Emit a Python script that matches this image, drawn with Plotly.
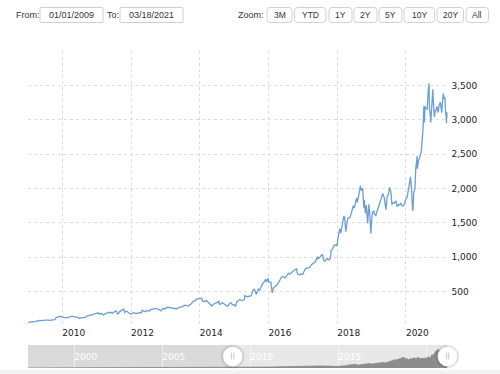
import plotly.graph_objects as go

W, H = 500, 374


def px(x):
    return x / W


def py(y):
    return 1 - y / H


# ---------------- data ----------------
dates = [
    "2009-01-02", "2009-01-15", "2009-02-02", "2009-02-17", "2009-03-02", "2009-03-16", "2009-04-01", "2009-04-15",
    "2009-05-01", "2009-05-15", "2009-06-01", "2009-06-15", "2009-07-01", "2009-07-15", "2009-08-03", "2009-08-17",
    "2009-09-01", "2009-09-15", "2009-10-01", "2009-10-15", "2009-10-26", "2009-11-16", "2009-12-01", "2009-12-15",
    "2009-12-31",
    "2010-01-15", "2010-02-01", "2010-02-16", "2010-03-01", "2010-03-15", "2010-04-01", "2010-04-15", "2010-04-30",
    "2010-05-14", "2010-06-01", "2010-06-15", "2010-07-01", "2010-07-15", "2010-07-30", "2010-08-16", "2010-09-01",
    "2010-09-15", "2010-10-01", "2010-10-15", "2010-11-01", "2010-11-15", "2010-12-01", "2010-12-15", "2010-12-31",
    "2011-01-18", "2011-01-28", "2011-02-15", "2011-03-01", "2011-03-16", "2011-04-01", "2011-04-15", "2011-04-29",
    "2011-05-16", "2011-06-01", "2011-06-15", "2011-07-01", "2011-07-15", "2011-07-27", "2011-08-08", "2011-08-22",
    "2011-09-01", "2011-09-15", "2011-09-27", "2011-10-14", "2011-10-26", "2011-11-15", "2011-12-01", "2011-12-15",
    "2011-12-30",
    "2012-01-17", "2012-01-31", "2012-02-15", "2012-03-01", "2012-03-15", "2012-04-02", "2012-04-20", "2012-04-27",
    "2012-05-15", "2012-06-01", "2012-06-15", "2012-07-02", "2012-07-16", "2012-07-27", "2012-08-15", "2012-09-04",
    "2012-09-25", "2012-10-15", "2012-10-26", "2012-11-15", "2012-11-30", "2012-12-14", "2012-12-31",
    "2013-01-15", "2013-01-31", "2013-02-15", "2013-03-01", "2013-03-15", "2013-04-01", "2013-04-19", "2013-05-01",
    "2013-05-15", "2013-06-03", "2013-06-14", "2013-07-01", "2013-07-22", "2013-08-01", "2013-08-15", "2013-09-03",
    "2013-09-17", "2013-10-01", "2013-10-25", "2013-11-15", "2013-12-02", "2013-12-16", "2013-12-31",
    "2014-01-22", "2014-01-31", "2014-02-14", "2014-03-03", "2014-03-14", "2014-04-01", "2014-04-14", "2014-04-25",
    "2014-05-08", "2014-05-23", "2014-06-11", "2014-07-01", "2014-07-24", "2014-07-25", "2014-08-08", "2014-08-29",
    "2014-09-15", "2014-10-01", "2014-10-24", "2014-11-14", "2014-11-28", "2014-12-15", "2014-12-31",
    "2015-01-16", "2015-01-30", "2015-02-17", "2015-03-02", "2015-03-16", "2015-04-01", "2015-04-22", "2015-04-24",
    "2015-05-15", "2015-06-01", "2015-06-15", "2015-07-01", "2015-07-24", "2015-08-05", "2015-08-24", "2015-09-01",
    "2015-09-16", "2015-10-01", "2015-10-16", "2015-10-23", "2015-11-02", "2015-11-16", "2015-12-01", "2015-12-10",
    "2015-12-29",
    "2016-01-04", "2016-01-28", "2016-02-09", "2016-02-24", "2016-03-15", "2016-04-01", "2016-04-29", "2016-05-16",
    "2016-06-01", "2016-06-24", "2016-07-15", "2016-08-01", "2016-08-15", "2016-09-01", "2016-09-23", "2016-10-14",
    "2016-10-25", "2016-11-04", "2016-11-15", "2016-12-01", "2016-12-15", "2016-12-30",
    "2017-01-27", "2017-02-15", "2017-03-01", "2017-03-15", "2017-04-03", "2017-04-28", "2017-05-15", "2017-06-05",
    "2017-06-09", "2017-06-26", "2017-07-27", "2017-08-10", "2017-08-25", "2017-09-15", "2017-10-02", "2017-10-20",
    "2017-10-27", "2017-11-15", "2017-11-30", "2017-12-15", "2017-12-29",
    "2018-01-12", "2018-01-29", "2018-02-01", "2018-02-08", "2018-02-27", "2018-03-12", "2018-03-20", "2018-04-02",
    "2018-04-17", "2018-04-27", "2018-05-15", "2018-06-01", "2018-06-20", "2018-07-02", "2018-07-25", "2018-08-01",
    "2018-08-15", "2018-08-30", "2018-09-04", "2018-09-14", "2018-09-28", "2018-10-11", "2018-10-17", "2018-10-26",
    "2018-11-07", "2018-11-20", "2018-11-30", "2018-12-03", "2018-12-14", "2018-12-24", "2018-12-31",
    "2019-01-10", "2019-01-25", "2019-02-01", "2019-02-15", "2019-03-01", "2019-03-15", "2019-04-01", "2019-04-15",
    "2019-04-30", "2019-05-15", "2019-06-03", "2019-06-14", "2019-07-01", "2019-07-11", "2019-07-26", "2019-08-05",
    "2019-08-16", "2019-09-03", "2019-09-16", "2019-09-30", "2019-10-15", "2019-10-25", "2019-11-08", "2019-11-22",
    "2019-12-06", "2019-12-20", "2019-12-31",
    "2020-01-15", "2020-01-31", "2020-02-19", "2020-03-02", "2020-03-12", "2020-03-16", "2020-03-24", "2020-04-06",
    "2020-04-14", "2020-04-20", "2020-04-30", "2020-05-01", "2020-05-15", "2020-06-01", "2020-06-15", "2020-07-01",
    "2020-07-10", "2020-07-13", "2020-07-17", "2020-07-20", "2020-07-31", "2020-08-14", "2020-08-26", "2020-09-02",
    "2020-09-08", "2020-09-14", "2020-09-21", "2020-09-25", "2020-10-05", "2020-10-13", "2020-10-22", "2020-10-30",
    "2020-11-09", "2020-11-13", "2020-11-27", "2020-12-04", "2020-12-09", "2020-12-18", "2020-12-31",
    "2021-01-08", "2021-01-15", "2021-01-26", "2021-02-02", "2021-02-10", "2021-02-18", "2021-02-24", "2021-03-04",
    "2021-03-08", "2021-03-11", "2021-03-16", "2021-03-18",
]
prices = [
    54, 58, 58, 64, 63, 65, 73, 77,
    80, 78, 83, 84, 84, 86, 85, 82,
    81, 88, 91, 94, 120, 134, 142, 130,
    135,
    127, 118, 118, 124, 131, 135, 143, 137,
    128, 125, 126, 110, 118, 118, 124, 125,
    145, 153, 158, 162, 158, 176, 176, 180,
    191, 171, 186, 173, 160, 180, 182, 196,
    198, 197, 185, 204, 213, 222, 178, 180,
    210, 227, 230, 247, 198, 217, 193, 181,
    173,
    181, 194, 184, 180, 185, 198, 190, 226,
    219, 208, 223, 223, 216, 238, 241, 247,
    255, 244, 238, 220, 252, 248, 251,
    272, 265, 269, 265, 262, 262, 258, 248,
    264, 269, 278, 283, 303, 301, 292, 289,
    309, 320, 363, 370, 393, 395, 398,
    405, 358, 357, 360, 370, 342, 316, 303,
    291, 312, 326, 332, 358, 324, 316, 339,
    324, 317, 287, 327, 338, 307, 310,
    290, 354, 375, 385, 373, 370, 390, 446,
    426, 430, 427, 437, 529, 537, 463, 496,
    538, 520, 570, 599, 627, 640, 680, 640,
    693,
    637, 635, 482, 555, 580, 599, 659, 710,
    719, 698, 735, 767, 758, 775, 805, 822,
    838, 755, 746, 743, 761, 750,
    836, 842, 853, 852, 891, 924, 937, 1011,
    978, 994, 1046, 956, 945, 986, 959, 982,
    1100, 1126, 1176, 1179, 1169,
    1305, 1418, 1390, 1350, 1512, 1598, 1586, 1371,
    1527, 1572, 1576, 1641, 1750, 1713, 1863, 1797,
    1882, 2002, 2039, 1970, 2003, 1719, 1831, 1642,
    1755, 1495, 1690, 1772, 1591, 1344, 1501,
    1656, 1670, 1627, 1608, 1671, 1712, 1814, 1863,
    1927, 1871, 1692, 1870, 1922, 2017, 1943, 1766,
    1793, 1789, 1822, 1735, 1767, 1761, 1785, 1745,
    1751, 1786, 1847,
    1877, 2008, 2170, 1953, 1676, 1689, 1940, 1997,
    2283, 2393, 2474, 2286, 2409, 2471, 2572, 2878,
    3200, 3104, 2961, 3196, 3164, 3148, 3441, 3531,
    3150, 3102, 2960, 3095, 3199, 3443, 3176, 3036,
    3143, 3128, 3195, 3162, 3105, 3201, 3257,
    3182, 3104, 3294, 3380, 3298, 3328, 3160, 3000,
    2951, 3113, 3092, 3027,
]

# history shown only in the navigator
nav_early_dates = [
    "1997-05-15", "1997-09-15", "1997-12-15", "1998-06-15", "1998-12-15", "1999-04-15", "1999-08-15", "1999-12-10",
    "2000-04-14", "2000-08-15", "2000-12-15", "2001-04-16", "2001-09-17", "2001-12-14", "2002-06-14", "2002-12-16",
    "2003-06-16", "2003-12-15", "2004-06-15", "2004-12-15", "2005-06-15", "2005-12-15", "2006-06-15", "2006-12-15",
    "2007-06-15", "2007-11-15", "2008-06-16", "2008-11-17", "2008-12-31",
]
nav_early_prices = [
    1.5, 4, 5, 8, 54, 90, 55, 107,
    55, 35, 16, 10, 6, 11, 16, 19,
    36, 52, 54, 44, 33, 47, 38, 39,
    68, 90, 73, 42, 51,
]

y_ticks = [0, 500, 1000, 1500, 2000, 2500, 3000, 3500, 4000]
y_tick_labels = ["", "500", "1,000", "1,500", "2,000", "2,500", "3,000", "3,500", ""]
x_tick_dates = ["2010-01-01", "2012-01-01", "2014-01-01", "2016-01-01", "2018-01-01", "2020-01-01"]
x_tick_labels = ["2010", "2012", "2014", "2016", "2018", "2020"]
nav_tick_dates = ["2000-01-01", "2005-01-01", "2010-01-01", "2015-01-01", "2020-01-01"]
nav_tick_labels = ["2000", "2005", "2010", "2015", "2020"]
zoom_buttons = ["3M", "YTD", "1Y", "2Y", "5Y", "10Y", "20Y", "All"]

sel_start = "2009-01-01"
sel_end = "2021-03-18"
nav_start = "1997-05-15"
from_label = "01/01/2009"
to_label = "03/18/2021"

# ---------------- layout geometry (pixels) ----------------
PL, PR = 28, 447.5
MAIN_T, MAIN_B = 51, 326
NAV_T, NAV_B = 345, 368
NAV_YMAX = 4300

LINE_COLOR = "#6a9fd6"
GRID_COLOR = "#dcdcdc"
TXT = "#333333"
AX_FONT = dict(family="DejaVu Sans", size=9, color="#222222")
UI_FONT = dict(family="Liberation Sans, Arial", size=9, color=TXT)

fig = go.Figure()

fig.add_trace(go.Scatter(
    x=dates, y=prices, mode="lines",
    line=dict(color=LINE_COLOR, width=1.3),
    xaxis="x", yaxis="y", hoverinfo="skip", showlegend=False,
))

fig.add_trace(go.Scatter(
    x=nav_early_dates + dates, y=nav_early_prices + prices, mode="lines",
    line=dict(color="#8a8a8a", width=0.8), fill="tozeroy", fillcolor="#8c8c8c",
    xaxis="x2", yaxis="y2", hoverinfo="skip", showlegend=False,
))

# navigator handles
hy = NAV_YMAX / 2
fig.add_trace(go.Scatter(
    x=[sel_start, sel_end], y=[hy, hy], mode="markers",
    marker=dict(size=24, color="rgba(0,0,0,0.07)", line=dict(width=0)),
    xaxis="x2", yaxis="y2", cliponaxis=False, hoverinfo="skip", showlegend=False,
))
fig.add_trace(go.Scatter(
    x=[sel_start, sel_end], y=[hy, hy], mode="markers",
    marker=dict(size=20, color="white", line=dict(width=1, color="rgba(0,0,0,0.10)")),
    xaxis="x2", yaxis="y2", cliponaxis=False, hoverinfo="skip", showlegend=False,
))
fig.add_trace(go.Scatter(
    x=[sel_start, sel_end], y=[hy, hy], mode="text", text=["||", "||"],
    textfont=dict(family="DejaVu Sans", size=7, color="#a8a8a8"),
    xaxis="x2", yaxis="y2", cliponaxis=False, hoverinfo="skip", showlegend=False,
))

shapes = []
# navigator background: full band, then darker unselected part
shapes.append(dict(type="rect", xref="x2", yref="y2", x0=nav_start, x1=sel_end, y0=0, y1=NAV_YMAX,
                   fillcolor="#e8e8e8", line=dict(width=0), layer="below"))
shapes.append(dict(type="rect", xref="x2", yref="y2", x0=nav_start, x1=sel_start, y0=0, y1=NAV_YMAX,
                   fillcolor="#dadada", line=dict(width=0), layer="below"))
# faint shadow under navigator
shapes.append(dict(type="rect", xref="paper", yref="paper", x0=0, x1=1, y0=py(374), y1=py(370),
                   fillcolor="#f4f4f4", line=dict(width=0), layer="below"))


def rrect(x0, y0, x1, y1, r):
    pts = [
        f"M{px(x0 + r)},{py(y0)}", f"L{px(x1 - r)},{py(y0)}", f"Q{px(x1)},{py(y0)} {px(x1)},{py(y0 + r)}",
        f"L{px(x1)},{py(y1 - r)}", f"Q{px(x1)},{py(y1)} {px(x1 - r)},{py(y1)}",
        f"L{px(x0 + r)},{py(y1)}", f"Q{px(x0)},{py(y1)} {px(x0)},{py(y1 - r)}",
        f"L{px(x0)},{py(y0 + r)}", f"Q{px(x0)},{py(y0)} {px(x0 + r)},{py(y0)}", "Z",
    ]
    return " ".join(pts)


annotations = []
# From / To inputs
box_y0, box_y1 = 7.5, 22.5
for (bx0, bx1, txt) in [(40, 103, from_label), (120, 183, to_label)]:
    shapes.append(dict(type="path", xref="paper", yref="paper", path=rrect(bx0, box_y0, bx1, box_y1, 1),
                       fillcolor="white", line=dict(color="#cfcfcf", width=1)))
    annotations.append(dict(x=px((bx0 + bx1) / 2), y=py(15), xref="paper", yref="paper", text=txt,
                            showarrow=False, font=UI_FONT, xanchor="center", yanchor="middle"))
annotations.append(dict(x=px(14), y=py(15), xref="paper", yref="paper", text="From:", showarrow=False,
                        font=UI_FONT, xanchor="left", yanchor="middle"))
annotations.append(dict(x=px(105), y=py(15), xref="paper", yref="paper", text="To:", showarrow=False,
                        font=UI_FONT, xanchor="left", yanchor="middle"))
annotations.append(dict(x=px(236), y=py(15), xref="paper", yref="paper", text="Zoom:", showarrow=False,
                        font=UI_FONT, xanchor="left", yanchor="middle"))

# zoom buttons (pixel extents)
btn_edges = [(267, 292), (294.5, 326), (329, 352), (354, 377), (379, 402), (404, 434.5), (437, 463.5), (466, 488.5)]
for (bx0, bx1), lab in zip(btn_edges, zoom_buttons):
    shapes.append(dict(type="path", xref="paper", yref="paper", path=rrect(bx0, box_y0, bx1, box_y1, 3),
                       fillcolor="white", line=dict(color="#d2d2d2", width=1)))
    annotations.append(dict(x=px((bx0 + bx1) / 2), y=py(15), xref="paper", yref="paper", text=lab,
                            showarrow=False, font=dict(family="Liberation Sans, Arial", size=8.5, color=TXT),
                            xanchor="center", yanchor="middle"))

fig.update_layout(
    width=W, height=H,
    margin=dict(l=0, r=0, t=0, b=0),
    paper_bgcolor="white", plot_bgcolor="rgba(0,0,0,0)",
    hovermode=False, showlegend=False,
    xaxis=dict(
        domain=[px(PL), px(PR)], anchor="y", type="date",
        range=[sel_start, sel_end],
        tickvals=x_tick_dates, ticktext=x_tick_labels,
        ticklabelposition="outside right",
        showgrid=True, gridcolor=GRID_COLOR, griddash="3px,3px", gridwidth=1,
        showline=False, zeroline=False, ticks="",
        tickfont=AX_FONT, fixedrange=True,
    ),
    yaxis=dict(
        domain=[py(MAIN_B), py(MAIN_T)], anchor="x", side="right",
        range=[0, 4000], tickvals=y_ticks, ticktext=y_tick_labels,
        showgrid=True, gridcolor=GRID_COLOR, griddash="3px,3px", gridwidth=1,
        showline=False, zeroline=False, ticks="", ticklabelstandoff=3,
        tickfont=AX_FONT, fixedrange=True,
    ),
    xaxis2=dict(
        domain=[px(PL), px(PR)], anchor="y2", type="date",
        range=[nav_start, sel_end],
        tickvals=nav_tick_dates, ticktext=nav_tick_labels,
        ticklabelposition="inside right",
        showgrid=True, gridcolor="rgba(255,255,255,0.55)", gridwidth=1,
        showline=False, zeroline=False, ticks="",
        tickfont=dict(family="DejaVu Sans", size=9, color="white"), fixedrange=True,
    ),
    yaxis2=dict(
        domain=[py(NAV_B), py(NAV_T)], anchor="x2",
        range=[0, NAV_YMAX], visible=False, fixedrange=True,
    ),
    shapes=shapes,
    annotations=annotations,
)

fig.write_html(
    "out.html",
    config={"displayModeBar": False},
    post_script="document.body.style.margin='0';document.body.style.overflow='hidden';",
)
